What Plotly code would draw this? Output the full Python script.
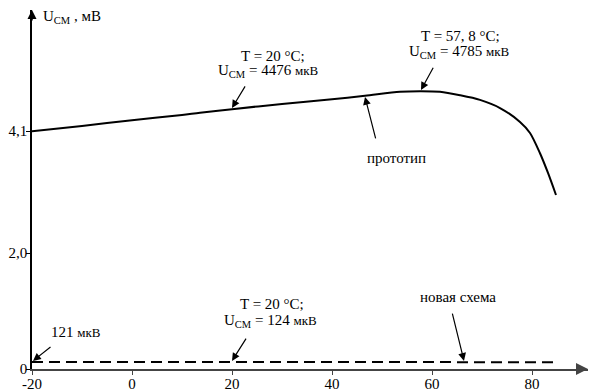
import plotly.graph_objects as go

# Prototype curve, mV
proto_T = [-20, -10, 0, 10, 13.6, 20, 30, 40, 46.6, 53.6, 57.8, 61.6, 65.6, 69.6, 73.6, 77.6, 79.6, 81.6, 83.2, 84.8]
proto_U = [4.10, 4.19, 4.29, 4.38, 4.42, 4.48, 4.57, 4.65, 4.71, 4.78, 4.79, 4.78, 4.72, 4.64, 4.50, 4.26, 4.07, 3.72, 3.38, 3.00]

# New scheme (dashed), mV
new_T = [-20, 20, 60, 84.6]
new_U = [0.121, 0.124, 0.123, 0.118]

x_ticks = [-20, 0, 20, 40, 60, 80]
x_tick_text = ["-20", "0", "20", "40", "60", "80"]
y_ticks = [0, 2.0, 4.1]
y_tick_text = ["0", "2,0", "4,1"]

FONT = "Liberation Serif"
FS = 15

fig = go.Figure()
fig.add_trace(go.Scatter(x=proto_T, y=proto_U, mode="lines",
                         line=dict(color="black", width=2, shape="spline", smoothing=0.8),
                         hoverinfo="skip", cliponaxis=False))
fig.add_trace(go.Scatter(x=new_T, y=new_U, mode="lines",
                         line=dict(color="black", width=2, dash="11px,6px"),
                         hoverinfo="skip", cliponaxis=False))

mk = '<span style="font-size:13px">мкВ</span>'
texts = [
    ("T = 20 °C;", 28.2, 5.40),
    ("U<sub>CM</sub> = 4476 " + mk, 27.2, 5.13),
    ("T = 57, 8 °C;", 65.6, 5.74),
    ("U<sub>CM</sub> = 4785 " + mk, 65.4, 5.47),
    ("T = 20 °C;", 28.0, 1.12),
    ("U<sub>CM</sub> = 124 " + mk, 27.6, 0.83),
    ("прототип", 52.8, 3.64),
    ("новая схема", 65.2, 1.24),
    ("121 " + mk, -11.2, 0.64),
    ("U<sub>CM</sub> , мВ", -12.0, 6.07),
    ("T, °C", 88.6, -0.22),
]
annotations = []
for t, x, y in texts:
    annotations.append(dict(text=t, x=x, y=y, xref="x", yref="y", showarrow=False,
                            font=dict(family=FONT, size=FS, color="black"),
                            xanchor="center", yanchor="middle"))

arrows = [
    (20, 4.50, 22.8, 4.90),
    (57.8, 4.81, 60.4, 5.22),
    (46.6, 4.69, 48.8, 3.95),
    (-19.8, 0.14, -16.0, 0.40),
    (20, 0.14, 23.0, 0.55),
    (66.4, 0.14, 64.0, 0.98),
]
for hx, hy, tx, ty in arrows:
    annotations.append(dict(text="", x=hx, y=hy, ax=tx, ay=ty, xref="x", yref="y",
                            axref="x", ayref="y", showarrow=True, arrowhead=2,
                            arrowsize=1.3, arrowwidth=1.2, arrowcolor="black", standoff=0))

# axis arrowheads
annotations.append(dict(text="", x=1, y=0, xref="paper", yref="y", ax=-12, ay=0,
                        showarrow=True, arrowhead=2, arrowsize=1.2, arrowwidth=2,
                        arrowcolor="#444", standoff=0))
annotations.append(dict(text="", x=-20, y=1, xref="x", yref="paper", ax=0, ay=12,
                        showarrow=True, arrowhead=2, arrowsize=1.2, arrowwidth=1.5,
                        arrowcolor="black", standoff=0))

# page body has an 8px default margin: figure sized to fit the window from (8, 8)
fig.update_layout(
    width=596, height=384,
    margin=dict(l=24, r=16, t=2, b=23),
    paper_bgcolor="white", plot_bgcolor="white",
    showlegend=False,
    font=dict(family=FONT, size=FS, color="black"),
    annotations=annotations,
    xaxis=dict(range=[-20, 91.2], tickvals=x_ticks, ticktext=x_tick_text,
               ticks="outside", ticklen=4,
               tickcolor="#444", showline=True, linecolor="#444", linewidth=2,
               showgrid=False, zeroline=False, automargin=False,
               ticklabelstandoff=-4,
               tickfont=dict(family=FONT, size=FS, color="black")),
    yaxis=dict(range=[0, 6.19], tickvals=y_ticks, ticktext=y_tick_text, ticks="outside",
               ticklen=4, tickcolor="black", showline=True, linecolor="black", linewidth=1.5,
               showgrid=False, zeroline=False, automargin=False,
               ticklabelstandoff=-4,
               tickfont=dict(family=FONT, size=FS, color="black")),
)

fig.write_html("out.html")
